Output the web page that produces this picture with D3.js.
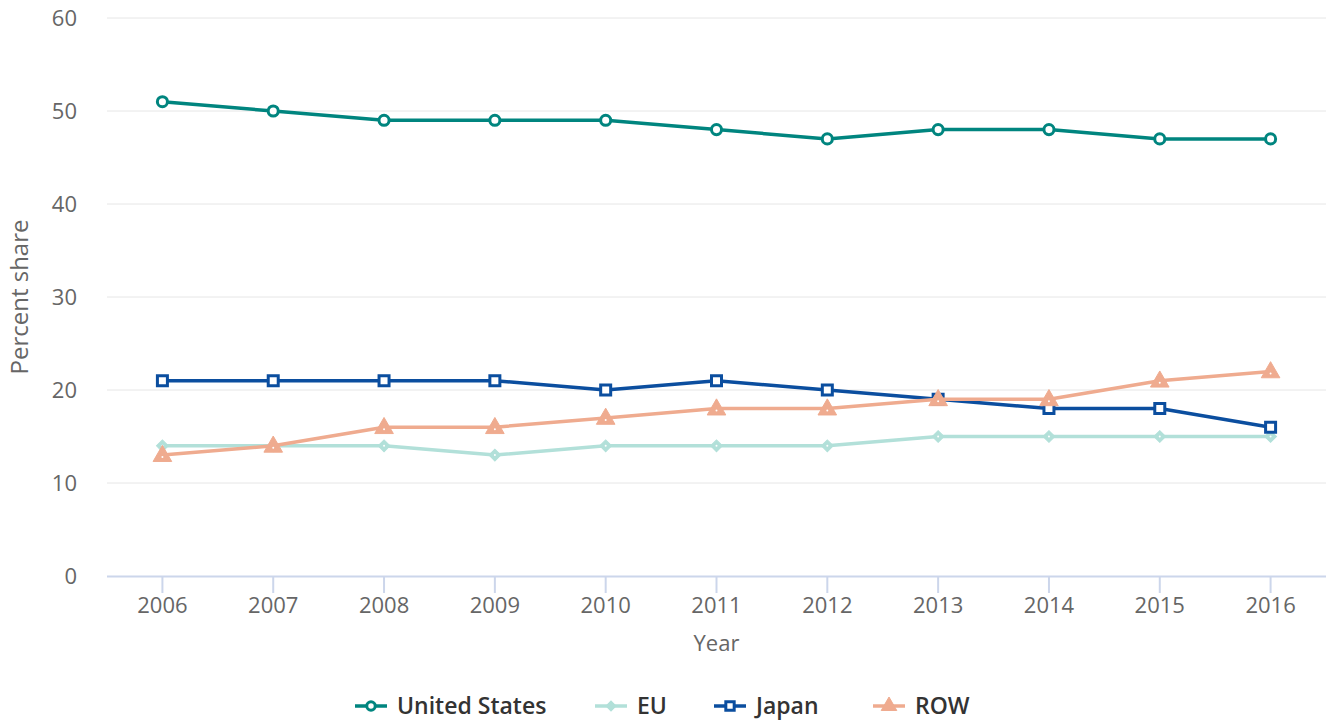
<!DOCTYPE html>
<html>
<head>
<meta charset="utf-8">
<script src="https://cdn.jsdelivr.net/npm/d3@7"></script>
<style>
    body { margin: 0; background: #fff; }
    svg, svg text { font-family: 'Open Sans', sans-serif; }
    .grid line { stroke: #e6e6e6; stroke-width: 1; }
    .axis text { fill: #666; font-size: 22px; font-family: 'Open Sans', sans-serif; }
</style>
</head>
<body>
<svg id="chart"></svg>
<script>
// 数据
var years = ['2006', '2007', '2008', '2009', '2010', '2011', '2012', '2013', '2014', '2015', '2016'];
var usValues = [51, 50, 49, 49, 49, 48, 47, 48, 48, 47, 47];
var euValues = [14, 14, 14, 13, 14, 14, 14, 15, 15, 15, 15];
var japanValues = [21, 21, 21, 21, 20, 21, 20, 19, 18, 18, 16];
var rowValues = [13, 14, 16, 16, 17, 18, 18, 19, 19, 21, 22];
var yTicks = [0, 10, 20, 30, 40, 50, 60];
var seriesNames = ['United States', 'EU', 'Japan', 'ROW'];

function drawChart(selector) {
    var svgWidth = 1331,
        svgHeight = 724;
    var padding = {left: 107, right: 5, top: 18, bottom: 148};
    var svg = d3.select(selector)
        .attr('width', svgWidth)
        .attr('height', svgHeight);

    // 每个系列的样式（菱形用旋转45度的方形）
    var series = [
        {name: seriesNames[0], values: usValues, color: '#00857f', symbol: d3.symbolCircle, size: 80, hollow: true, rotate: 0},
        {name: seriesNames[1], values: euValues, color: '#b2e0d9', symbol: d3.symbolSquare, size: 70, hollow: false, rotate: 45},
        {name: seriesNames[2], values: japanValues, color: '#0b4e9f', symbol: d3.symbolSquare, size: 100, hollow: true, rotate: 0},
        {name: seriesNames[3], values: rowValues, color: '#efab8f', symbol: d3.symbolTriangle, size: 150, hollow: false, rotate: 0}
    ];

    // 比例尺
    var x = d3.scaleBand()
        .domain(years)
        .range([padding.left, svgWidth - padding.right]);
    var y = d3.scaleLinear()
        .domain([0, 60])
        .range([svgHeight - padding.bottom, padding.top]);

    // 网格线
    svg.append('g')
        .attr('class', 'grid')
        .selectAll('line')
        .data(yTicks.slice(1))
        .enter()
        .append('line')
        .attr('x1', padding.left)
        .attr('x2', svgWidth - padding.right)
        .attr('y1', function(d) { return y(d); })
        .attr('y2', function(d) { return y(d); });

    // y轴
    var yAxis = d3.axisLeft(y).tickValues(yTicks).tickSize(0).tickPadding(0);
    var gy = svg.append('g')
        .attr('class', 'axis')
        .attr('transform', 'translate(77, 0)')
        .call(yAxis);
    gy.select('.domain').remove();
    gy.selectAll('text').attr('dy', '0.35em');

    // x轴
    var xAxis = d3.axisBottom(x).tickSize(17).tickPadding(5);
    var gx = svg.append('g')
        .attr('class', 'axis')
        .attr('transform', 'translate(0, ' + (svgHeight - padding.bottom) + ')')
        .call(xAxis);
    gx.select('.domain')
        .attr('d', 'M' + padding.left + ',0.5H' + (svgWidth - padding.right))
        .attr('stroke', '#ccd6eb')
        .attr('stroke-width', 2);
    gx.selectAll('.tick line').attr('stroke', '#ccd6eb').attr('stroke-width', 2);
    gx.selectAll('.tick text').attr('dy', null).attr('y', 37);

    // 轴标题
    svg.append('text')
        .attr('x', x('2011') + x.bandwidth() / 2)
        .attr('y', 651)
        .attr('text-anchor', 'middle')
        .attr('fill', '#666')
        .style('font-size', '22px')
        .text('Year');
    svg.append('text')
        .attr('transform', 'translate(28, ' + y(30) + ') rotate(-90)')
        .attr('text-anchor', 'middle')
        .attr('fill', '#666')
        .style('font-size', '24px')
        .text('Percent share');

    // 折线
    var line = d3.line()
        .x(function(d, i) { return x(years[i]) + x.bandwidth() / 2; })
        .y(function(d) { return y(d); });

    var groups = svg.selectAll('.series')
        .data(series)
        .enter()
        .append('g')
        .attr('class', 'series');
    groups.append('path')
        .attr('d', function(d) { return line(d.values); })
        .attr('fill', 'none')
        .attr('stroke', function(d) { return d.color; })
        .attr('stroke-width', 3.5)
        .attr('stroke-linejoin', 'round');

    // 圆点
    groups.each(function(s) {
        var sym = d3.symbol().type(s.symbol).size(s.size);
        var g = d3.select(this);
        g.selectAll('.dot')
            .data(s.values)
            .enter()
            .append('path')
            .attr('class', 'dot')
            .attr('d', sym)
            .attr('transform', function(d, i) {
                var dy = s.symbol === d3.symbolTriangle ? 1 : 0;
                return 'translate(' + (x(years[i]) + x.bandwidth() / 2) + ', ' + (y(d) + dy) + ') rotate(' + s.rotate + ')';
            })
            .attr('fill', s.hollow ? '#fff' : s.color)
            .attr('stroke', s.color)
            .attr('stroke-width', s.hollow ? 3 : 1);
        if (!s.hollow) {
            g.selectAll('.pt')
                .data(s.values)
                .enter()
                .append('circle')
                .attr('class', 'pt')
                .attr('cx', function(d, i) { return x(years[i]) + x.bandwidth() / 2; })
                .attr('cy', function(d) { return y(d) + (s.symbol === d3.symbolTriangle ? 2 : 0); })
                .attr('r', 1)
                .attr('fill', '#fff');
        }
    });

    // 图例
    var legendX = [355, 595, 714, 873];
    var legend = svg.selectAll('.legend')
        .data(series)
        .enter()
        .append('g')
        .attr('class', 'legend')
        .attr('transform', function(d, i) {
            return 'translate(' + legendX[i] + ', 706)';
        });
    legend.append('line')
        .attr('x1', 0)
        .attr('x2', 32)
        .attr('stroke', function(d) { return d.color; })
        .attr('stroke-width', 3.5);
    legend.append('path')
        .attr('d', function(d) { return d3.symbol().type(d.symbol).size(d.size * 0.7)(); })
        .attr('transform', function(d) { return 'translate(16, 0) rotate(' + d.rotate + ')'; })
        .attr('fill', function(d) { return d.hollow ? '#fff' : d.color; })
        .attr('stroke', function(d) { return d.color; })
        .attr('stroke-width', function(d) { return d.hollow ? 3 : 1; });
    legend.append('text')
        .attr('x', 42)
        .attr('y', 0)
        .attr('dy', '0.35em')
        .attr('fill', '#333')
        .style('font-size', '23px')
        .style('font-weight', 600)
        .text(function(d) { return d.name; });
}
drawChart('#chart');
</script>
</body>
</html>
